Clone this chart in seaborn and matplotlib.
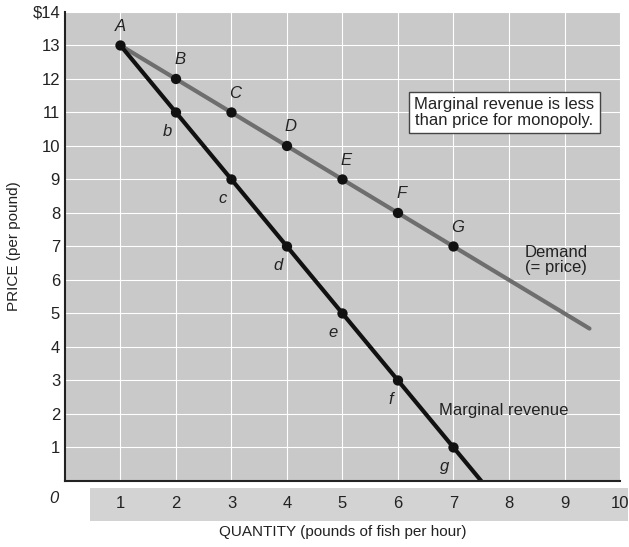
import numpy as np
import pandas as pd
import matplotlib
matplotlib.use("Agg")
import matplotlib.pyplot as plt
import seaborn as sns
from matplotlib.patches import Rectangle

# ---- data ----
quantity = [1, 2, 3, 4, 5, 6, 7]
price = [13, 12, 11, 10, 9, 8, 7]                 # demand (= price)
marginal_revenue = [13, 11, 9, 7, 5, 3, 1]
demand_end = (9.45, 4.55)                         # demand line runs on past G
mr_end = (7.5, 0.0)                               # MR hits zero here
upper_labels = ["A", "B", "C", "D", "E", "F", "G"]
lower_labels = ["", "b", "c", "d", "e", "f", "g"]
x_ticks = [1, 2, 3, 4, 5, 6, 7, 8, 9, 10]
y_ticks = list(range(1, 15))
y_ticklabels = [str(v) for v in y_ticks[:-1]] + ["$14"]

demand_df = pd.DataFrame({"q": quantity + [demand_end[0]],
                          "p": price + [demand_end[1]]})
mr_df = pd.DataFrame({"q": quantity + [mr_end[0]],
                      "p": marginal_revenue + [mr_end[1]]})

sns.set_style("darkgrid", {"axes.facecolor": "#c9c9c9",
                           "grid.color": "white", "grid.linewidth": 1.0})
plt.rcParams["font.family"] = ["Liberation Sans", "DejaVu Sans"]

fig = plt.figure(figsize=(6.29, 5.47), dpi=100)
ax = fig.add_axes([0.1033, 0.1207, 0.8824, 0.8574])

sns.lineplot(data=demand_df, x="q", y="p", ax=ax, color="#6e6e6e",
             linewidth=3, sort=False)
sns.lineplot(data=mr_df, x="q", y="p", ax=ax, color="#111111",
             linewidth=3, sort=False)
sns.scatterplot(x=quantity, y=price, ax=ax, color="#111111", s=55,
                edgecolor="none", zorder=5)
sns.scatterplot(x=quantity[1:], y=marginal_revenue[1:], ax=ax,
                color="#111111", s=55, edgecolor="none", zorder=5)

for q, p, lab in zip(quantity, price, upper_labels):
    ax.text(q + (0 if q == 1 else 0.07), p + 0.35, lab, style="italic",
            fontsize=12, ha="center", va="bottom", color="#222222")
for q, p, lab in zip(quantity, marginal_revenue, lower_labels):
    if lab:
        ax.text(q - 0.08, p - 0.35, lab, style="italic", fontsize=12,
                ha="right", va="top", color="#222222")

ax.text(7.92, 11.0, "Marginal revenue is less\nthan price for monopoly.",
        fontsize=12, ha="center", va="center", color="#222222",
        linespacing=1.05,
        bbox=dict(boxstyle="square,pad=0.3", fc="white", ec="#444444", lw=1))
ax.text(8.85, 6.6, "Demand\n(= price)", fontsize=12, ha="center",
        va="center", color="#222222", linespacing=1.0)
ax.text(7.9, 2.1, "Marginal revenue", fontsize=12, ha="center",
        va="center", color="#222222")

ax.set_xlim(0, 10)
ax.set_ylim(0, 14)
ax.set_xticks(x_ticks)
ax.set_yticks(y_ticks)
ax.set_yticklabels(y_ticklabels)
ax.tick_params(axis="both", labelsize=12, length=0, colors="#222222")
ax.tick_params(axis="x", pad=11)
ax.text(-0.12, -0.3, "0", fontsize=12, ha="right", va="top", style="italic",
        color="#222222")

# gray strip behind the x tick labels
strip = Rectangle((0.045, -0.085), 0.97, 0.07, transform=ax.transAxes,
                  facecolor="#d3d3d3", edgecolor="none", clip_on=False,
                  zorder=-1)
ax.add_patch(strip)

for side in ["top", "right"]:
    ax.spines[side].set_visible(False)
for side in ["left", "bottom"]:
    ax.spines[side].set_visible(True)
    ax.spines[side].set_color("#222222")
    ax.spines[side].set_linewidth(1.5)

ax.set_xlabel("QUANTITY (pounds of fish per hour)", fontsize=11,
              color="#222222", labelpad=10)
ax.set_ylabel("PRICE (per pound)", fontsize=11, color="#222222",
              labelpad=8)

fig.savefig("out.png", dpi=100)
